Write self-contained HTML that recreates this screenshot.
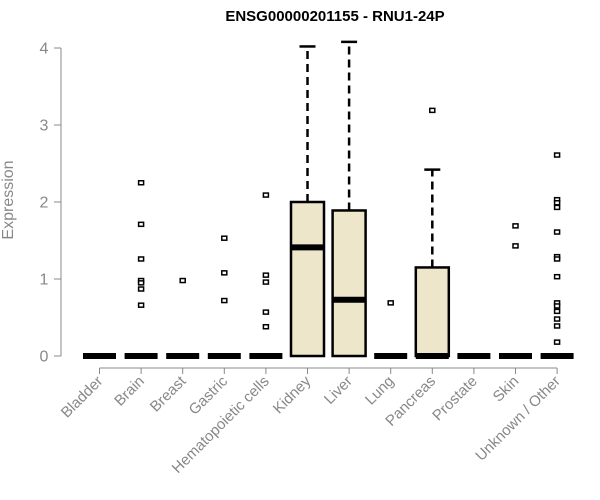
<!DOCTYPE html>
<html><head><meta charset="utf-8"><style>
body{margin:0;background:#fff;}
svg{display:block;font-family:"Liberation Sans",Arial,sans-serif;}
</style></head><body>
<svg id="chart" width="600" height="500">
<text x="335" y="21" text-anchor="middle" font-weight="bold" font-size="15">ENSG00000201155 - RNU1-24P</text>
<text transform="translate(13,200) rotate(-90)" text-anchor="middle" font-size="16" fill="#888">Expression</text>
<g id="axes"></g><g id="marks"></g>
</svg>
<script>
const categories=["Bladder","Brain","Breast","Gastric","Hematopoietic cells","Kidney","Liver","Lung","Pancreas","Prostate","Skin","Unknown / Other"];
const q1=[0,0,0,0,0,0,0,0,0,0,0,0];
const medians=[0,0,0,0,0,1.41,0.73,0,0,0,0,0];
const q3=[0,0,0,0,0,2.0,1.89,0,1.15,0,0,0];
const whiskerHigh=[0,0,0,0,0,4.02,4.08,0,2.42,0,0,0];
const outliers=[[],[2.25,1.71,1.26,0.98,0.95,0.87,0.66],[0.98],[1.53,1.08,0.72],[2.09,1.05,0.96,0.57,0.38],[],[],[0.69],[3.19],[],[1.69,1.43],[2.61,2.03,1.99,1.93,1.61,1.29,1.26,1.03,0.69,0.65,0.58,0.48,0.39,0.18]];
const yTicks=[0,1,2,3,4];
const NS="http://www.w3.org/2000/svg";
const y=v=>356-v*77;
const x=i=>99.5+i*41.6;
const axes=document.getElementById('axes'),marks=document.getElementById('marks');
function mk(p,t,a){const e=document.createElementNS(NS,t);for(const k in a)e.setAttribute(k,a[k]);p.appendChild(e);return e;}
let ya=mk(axes,'line',{x1:61,x2:61,y1:y(0),y2:y(4),stroke:'#888'});


yTicks.forEach(t=>{
 mk(axes,'line',{x1:54,x2:61,y1:y(t),y2:y(t),stroke:'#888'});
 let tx=mk(axes,'text',{x:44,y:y(t)+5.5,'text-anchor':'middle','font-size':16,fill:'#888'});
 tx.textContent=t;
 
 
});
let xa=mk(axes,'line',{x1:x(0),x2:x(11),y1:368,y2:368,stroke:'#888'});


categories.forEach((c,i)=>{
 const cx=x(i);
 mk(axes,'line',{x1:cx,x2:cx,y1:368,y2:374,stroke:'#888'});
 let tx=mk(axes,'text',{x:cx+4,y:382,'text-anchor':'end','font-size':15,fill:'#888',transform:`rotate(-45 ${cx+4} 382)`});
 tx.textContent=c;
 
 
 const g=mk(marks,'g',{});
 
 
 const hw=16.5;
 if(whiskerHigh[i]>q3[i]){
  mk(g,'line',{x1:cx,x2:cx,y1:y(q3[i]),y2:y(whiskerHigh[i]),stroke:'#000','stroke-width':2.5,'stroke-dasharray':'8,5'});
  mk(g,'line',{x1:cx-8,x2:cx+8,y1:y(whiskerHigh[i]),y2:y(whiskerHigh[i]),stroke:'#000','stroke-width':2.5});
 }
 if(q3[i]>q1[i]) mk(g,'rect',{x:cx-hw,y:y(q3[i]),width:hw*2,height:y(q1[i])-y(q3[i]),fill:'#ede6cb',stroke:'#000','stroke-width':2.5});
 mk(g,'line',{x1:cx-hw,x2:cx+hw,y1:y(medians[i]),y2:y(medians[i]),stroke:'#000','stroke-width':6});
 outliers[i].forEach(v=>{
  let p=mk(g,'rect',{x:cx-2.5,y:y(v)-2,width:5,height:4,fill:'#fff',stroke:'#000','stroke-width':1.5});
  
  
 });
});
</script>
</body></html>
